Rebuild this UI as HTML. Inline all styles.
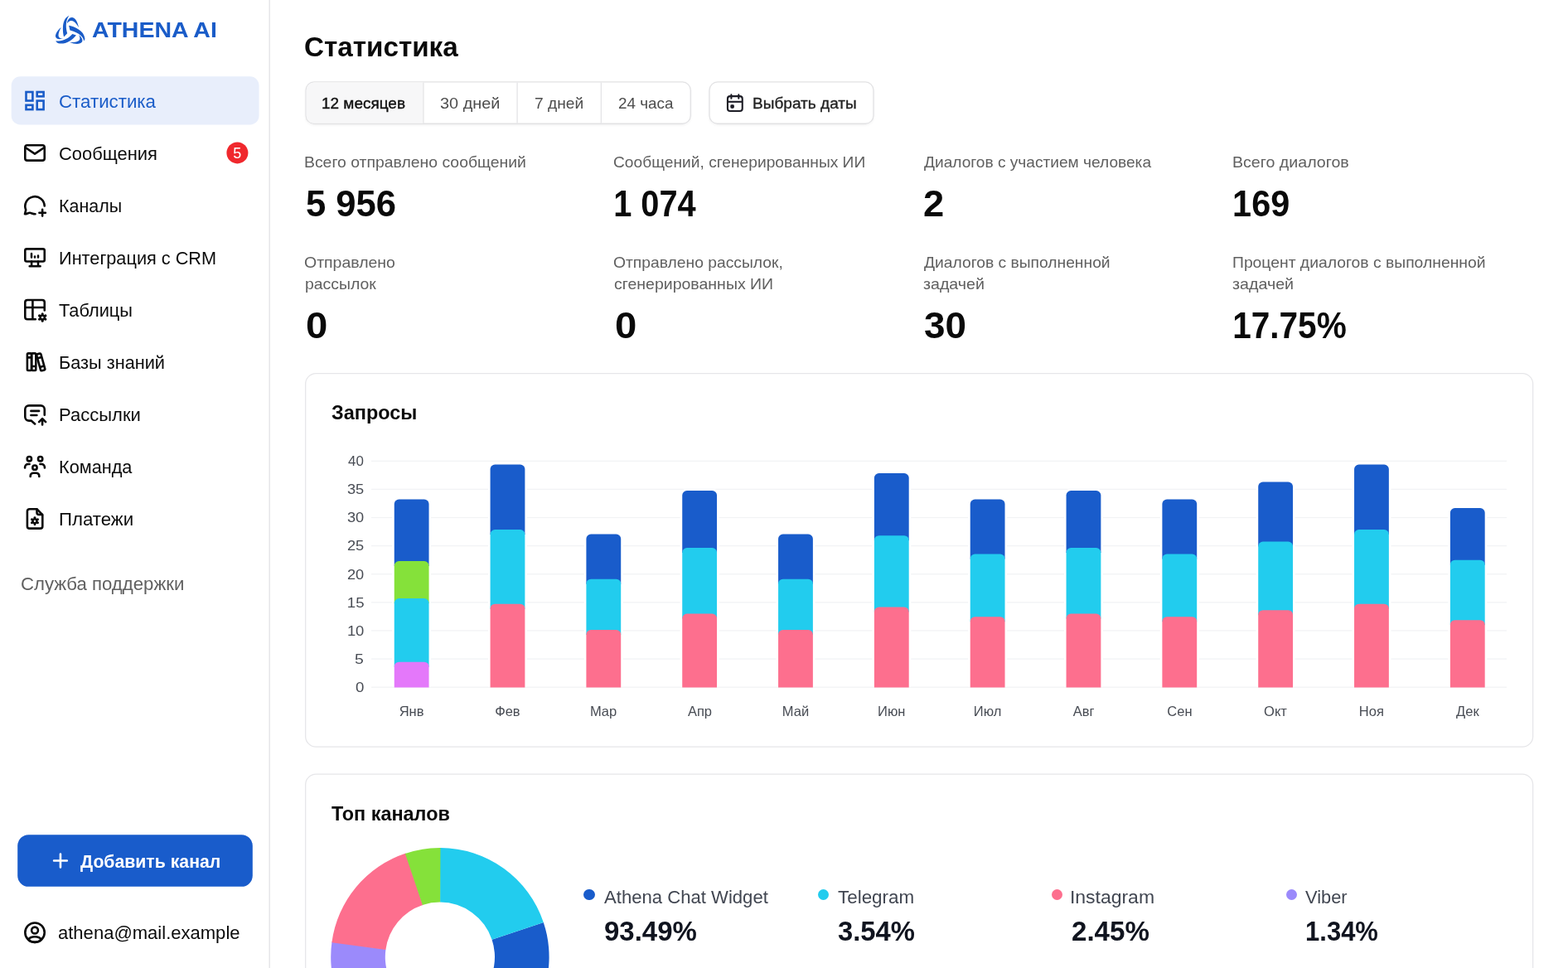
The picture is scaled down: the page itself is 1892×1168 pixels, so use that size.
<!DOCTYPE html>
<html lang="ru">
<head>
<meta charset="utf-8">
<title>Статистика — Athena AI</title>
<style>
*{box-sizing:border-box;margin:0;padding:0}
html,body{width:1892px;height:1168px;overflow:hidden;background:#fff}
body{position:relative;font-family:"Liberation Sans","DejaVu Sans",sans-serif;color:#0a0a0a;-webkit-font-smoothing:antialiased}
a{color:inherit;text-decoration:none}
ul{list-style:none}
.t{position:absolute;white-space:pre;line-height:1;display:block}
svg{position:absolute;overflow:visible}
.ic{fill:none;stroke:#0a0a0a;stroke-width:2.6;stroke-linecap:round;stroke-linejoin:round}
main{display:block}
.dot{position:absolute;width:13.4px;height:13.4px;border-radius:50%}
</style>
</head>
<body>
<aside>
<svg style="left:0;top:0" width="1892" height="1168" viewBox="0 0 1892 1168" aria-hidden="true"><defs><filter id="sh" x="-5%" y="-20%" width="110%" height="150%"><feDropShadow dx="0" dy="1.3" stdDeviation="1.2" flood-color="#000" flood-opacity="0.05"/></filter></defs><rect x="324.5" y="0" width="1.4" height="1168" fill="#e4e4e7"/><rect x="13.7" y="92.3" width="298.8" height="58.1" rx="10.7" fill="#e8eefb"/><g filter="url(#sh)"><rect x="369.05" y="98.95" width="464.20" height="50.30" rx="9.85" fill="#fff" stroke="#e2e2e4" stroke-width="1.3" /><rect x="856.05" y="98.95" width="197.90" height="50.30" rx="9.85" fill="#fff" stroke="#e2e2e4" stroke-width="1.3" /></g><path d="M369.7 108.8 a9.2 9.2 0 0 1 9.2 -9.2 H510.4 V148.6 H378.9 a9.2 9.2 0 0 1 -9.2 -9.2 Z" fill="#f7f7f8"/><rect x="510.30" y="99.6" width="1.3" height="49" fill="#e4e4e6"/><rect x="623.45" y="99.6" width="1.3" height="49" fill="#e4e4e6"/><rect x="724.70" y="99.6" width="1.3" height="49" fill="#e4e4e6"/><rect x="368.65" y="450.65" width="1481.00" height="450.40" rx="12.65" fill="#fff" stroke="#e6e6e9" stroke-width="1.3" /><rect x="368.65" y="934.15" width="1481.00" height="305.20" rx="12.65" fill="#fff" stroke="#e6e6e9" stroke-width="1.3" /><rect x="21.2" y="1007.2" width="283.6" height="62.6" rx="13.3" fill="#195ccb"/><circle cx="286.4" cy="184.4" r="13" fill="#f0282d"/></svg>
<a href="#" aria-label="Athena AI"><svg class="" style="left:60px;top:12px" width="50" height="50" viewBox="0 0 50 50" ><g fill="#1a5cc8" stroke="none"><path d="M23.3 6.85 C18 9.5 16 15 15.9 22 C15.8 26 16.3 29.5 17.1 32.5 L21.2 28.3 C19.5 23 18.5 14 23.3 6.85 Z"/><path d="M20.9 16.6 C21.3 12.3 23.5 9.1 26.7 9.0 C30.6 9.0 33.7 14.4 35 21.3 C32.3 16.6 29.6 13.2 26.2 13.0 C24.1 12.9 22.3 14.3 20.9 16.6 Z"/><path d="M13.8 20.9 C9.4 24.4 6.6 29 7.0 32.1 C7.4 35 11 36.3 16.1 34.5 C12.7 34.5 10.6 33.4 10.5 30.9 C10.4 28 11.7 24.5 13.8 20.9 Z"/><path d="M23.1 18.8 C31 20.5 41 25 42.4 34.2 C42.5 35.5 42 36.5 41.1 37.2 C41 33 36 27.5 24.4 24.4 Z"/><path d="M7.3 37.2 C15 38.5 22 35 27.4 29.1 L31.9 30.4 C27 37 18 42 10.5 40.2 C9 39.8 8 38.7 7.3 37.2 Z"/><path d="M35.1 29.9 C38.7 33 40.3 36.2 39 38.6 C37.2 41.9 30 41.7 24.3 39.1 C30 39.2 34.6 38.2 36 35.9 C36.8 34.5 36.3 32.3 35.1 29.9 Z"/></g></svg><strong class="t" id="logo" style="left:111.34px;top:23.19px;font-size:26px;color:#1a5cc8;font-weight:700;transform-origin:0.00px 0;transform:scaleX(1.0954);">ATHENA AI</strong></a>
<nav><ul>
<li><a href="#"><svg class="ic" style="left:22px;top:102px" width="40" height="40" viewBox="0 0 40 40" ><g stroke="#1a5cc8" stroke-linejoin="miter" stroke-linecap="butt"><rect x="9.5" y="9" width="7.9" height="10.5"/><rect x="22.7" y="9" width="7.9" height="5.3"/><rect x="9.5" y="24.8" width="7.9" height="5.3"/><rect x="22.7" y="19.6" width="7.9" height="10.5"/></g></svg><span class="t" id="nav0" style="left:70.72px;top:112.45px;font-size:22.5px;color:#1a5cc8;transform-origin:1.00px 0;transform:scaleX(0.9900);">Статистика</span></a></li>
<li><a href="#"><svg class="ic" style="left:22px;top:165px" width="40" height="40" viewBox="0 0 40 40" ><rect x="8.3" y="10.2" width="23.45" height="18.45" rx="2.6"/><path d="M8.6 13 L20 20.6 L31.4 13"/></svg><span class="t" id="nav1" style="left:70.80px;top:174.50px;font-size:22.5px;color:#0a0a0a;transform-origin:1.00px 0;transform:scaleX(0.9736);">Сообщения</span></a><span class="t" id="badge" style="left:281.20px;top:175.96px;font-size:18px;color:#fff;">5</span></li>
<li><a href="#"><svg class="ic" style="left:22px;top:228px" width="40" height="40" viewBox="0 0 40 40" ><path d="M31.72 20.54 A11.7 11.7 0 1 0 9.2 25.3 L8.0 30.2 C10.4 30.3 12 28.7 14 28.8 C16 28.9 17.5 30.2 20.5 30.2"/><path d="M25.4 28.8 H32.9 M29.15 24.9 V32.6"/></svg><span class="t" id="nav2" style="left:70.78px;top:237.55px;font-size:22.5px;color:#0a0a0a;transform-origin:1.00px 0;transform:scaleX(0.9526);">Каналы</span></a></li>
<li><a href="#"><svg class="ic" style="left:22px;top:291px" width="40" height="40" viewBox="0 0 40 40" ><rect x="8.3" y="9.35" width="23.45" height="15.2" rx="2"/><path d="M16.1 24.6 V30.2 M24 24.6 V30.2 M13.7 30.3 H26.6"/><path d="M16 14.9 V19.4 M20 18.6 V19.4 M24 17.5 V19.4" stroke-width="2.5"/></svg><span class="t" id="nav3" style="left:70.77px;top:300.60px;font-size:22.5px;color:#0a0a0a;transform-origin:1.00px 0;transform:scaleX(0.9646);">Интеграция с CRM</span></a></li>
<li><a href="#"><svg class="ic" style="left:22px;top:354px" width="40" height="40" viewBox="0 0 40 40" ><path d="M31.75 20.4 V10.8 a2.8 2.8 0 0 0 -2.8 -2.8 H11.1 a2.8 2.8 0 0 0 -2.8 2.8 V28.4 a2.8 2.8 0 0 0 2.8 2.8 H20.8"/><path d="M8.3 17 H31.75 M17.4 8 V31.2" stroke-linecap="butt"/><path d="M29.20 24.75L29.20 33.35" stroke-width="3.0"/><path d="M25.48 26.90L32.92 31.20" stroke-width="3.0"/><path d="M32.92 26.90L25.48 31.20" stroke-width="3.0"/><circle cx="29.2" cy="29.05" r="3.65" fill="#0a0a0a" stroke="none"/><circle cx="29.2" cy="29.05" r="1.3" fill="#fff" stroke="none"/></svg><span class="t" id="nav4" style="left:70.52px;top:363.65px;font-size:22.5px;color:#0a0a0a;transform-origin:0.00px 0;transform:scaleX(0.9678);">Таблицы</span></a></li>
<li><a href="#"><svg class="ic" style="left:22px;top:417px" width="40" height="40" viewBox="0 0 40 40" ><rect x="10.9" y="9.4" width="5.2" height="20.6" rx="1.2"/><rect x="16.1" y="9.4" width="5.2" height="20.6" rx="1.2"/><path d="M10.9 14.4 H16.1 M16.1 25 H21.3" stroke-linecap="butt"/><g transform="rotate(-15.5 27.2 19.9)"><rect x="24.5" y="9.6" width="5.4" height="20.6" rx="1.2"/><path d="M24.5 14.4 H29.9 M24.5 25.4 H29.9" stroke-linecap="butt"/></g></svg><span class="t" id="nav5" style="left:70.78px;top:426.70px;font-size:22.5px;color:#0a0a0a;transform-origin:1.00px 0;transform:scaleX(0.9647);">Базы знаний</span></a></li>
<li><a href="#"><svg class="ic" style="left:22px;top:480px" width="40" height="40" viewBox="0 0 40 40" ><path d="M31.75 20.8 V13.95 a4.6 4.6 0 0 0 -4.6 -4.6 H12.9 a4.6 4.6 0 0 0 -4.6 4.6 V23 a4.6 4.6 0 0 0 4.6 4.6 H15.6 L20.1 31.5"/><path d="M15.4 15.9 H25.1 M15.4 21.05 H22.4"/><path d="M29.1 32.4 V25.2 M25.1 29.1 L29.1 25.1 L33.1 29.1"/></svg><span class="t" id="nav6" style="left:70.76px;top:489.75px;font-size:22.5px;color:#0a0a0a;transform-origin:1.00px 0;transform:scaleX(0.9785);">Рассылки</span></a></li>
<li><a href="#"><svg class="ic" style="left:22px;top:543px" width="40" height="40" viewBox="0 0 40 40" ><circle cx="13.36" cy="10.7" r="2.65"/><circle cx="26.64" cy="10.7" r="2.65"/><circle cx="19.97" cy="21.15" r="2.65"/><path d="M13.6 17 H11.9 a3.8 3.8 0 0 0 -3.8 3.8 V21.5"/><path d="M26.4 17 H28.1 a3.8 3.8 0 0 1 3.8 3.8 V21.5"/><path d="M14.7 31.9 V31.3 a3.6 3.6 0 0 1 3.6 -3.6 H21.7 a3.6 3.6 0 0 1 3.6 3.6 V31.9"/></svg><span class="t" id="nav7" style="left:70.78px;top:552.80px;font-size:22.5px;color:#0a0a0a;transform-origin:1.00px 0;transform:scaleX(0.9636);">Команда</span></a></li>
<li><a href="#"><svg class="ic" style="left:22px;top:606px" width="40" height="40" viewBox="0 0 40 40" ><path d="M22.4 8.2 H13.6 a2.7 2.7 0 0 0 -2.7 2.7 V28.9 a2.7 2.7 0 0 0 2.7 2.7 H26.6 a2.7 2.7 0 0 0 2.7 -2.7 V15.1 Z"/><path d="M22.5 8.6 V12.4 a2.5 2.5 0 0 0 2.5 2.5 H28.9"/><path d="M19.97 18.60L19.97 26.80" stroke-width="2.9"/><path d="M16.42 20.65L23.52 24.75" stroke-width="2.9"/><path d="M23.52 20.65L16.42 24.75" stroke-width="2.9"/><circle cx="19.97" cy="22.7" r="3.48" fill="#0a0a0a" stroke="none"/><circle cx="19.97" cy="22.7" r="1.2" fill="#fff" stroke="none"/></svg><span class="t" id="nav8" style="left:70.78px;top:615.85px;font-size:22.5px;color:#0a0a0a;transform-origin:1.00px 0;transform:scaleX(0.9870);">Платежи</span></a></li>
</ul></nav>
<a href="#"><span class="t" id="support" style="left:24.94px;top:693.95px;font-size:22.5px;color:#606060;transform-origin:1.00px 0;transform:scaleX(0.9850);">Служба поддержки</span></a>
<a href="#" role="button"><svg class="ic" style="left:53px;top:1019px" width="40" height="40" viewBox="0 0 40 40" ><path d="M12.1 19.5 H27.8 M19.95 11.6 V27.5" stroke="#fff"/></svg><span class="t" id="addbtn" style="left:97.00px;top:1028.58px;font-size:22px;color:#fff;font-weight:700;transform-origin:0.00px 0;transform:scaleX(0.9648);">Добавить канал</span></a>
<div><svg class="ic" style="left:22px;top:1105px" width="40" height="40" viewBox="0 0 40 40" ><circle cx="20.03" cy="20.2" r="11.7"/><circle cx="20.03" cy="17.5" r="3.9"/><ellipse cx="20.03" cy="28.6" rx="7.2" ry="3.3"/></svg><span class="t" id="email" style="left:70.20px;top:1114.65px;font-size:22.5px;color:#0a0a0a;transform-origin:0.00px 0;transform:scaleX(0.9791);">athena@mail.example</span></div>
</aside>
<main>
<h1 class="t" id="title" style="left:366.92px;top:40.99px;font-size:32.5px;color:#0a0a0a;font-weight:700;transform-origin:1.00px 0;transform:scaleX(1.0225);">Статистика</h1>
<div role="tablist"><a class="t" id="tab0" style="left:388.49px;top:114.82px;font-size:19px;color:#111;transform-origin:1.00px 0;transform:scaleX(0.9979);-webkit-text-stroke:0.4px #111;">12 месяцев</a><a class="t" id="tab1" style="left:531.00px;top:114.82px;font-size:19px;color:#4d4d4d;transform-origin:0.00px 0;transform:scaleX(1.0461);">30 дней</a><a class="t" id="tab2" style="left:644.50px;top:114.82px;font-size:19px;color:#4d4d4d;transform-origin:0.00px 0;transform:scaleX(1.0099);">7 дней</a><a class="t" id="tab3" style="left:746.00px;top:114.82px;font-size:19px;color:#4d4d4d;transform-origin:0.00px 0;transform:scaleX(0.9944);">24 часа</a></div>
<a href="#" role="button"><svg class="ic" style="left:867px;top:104px" width="40" height="40" viewBox="0 0 40 40" ><g stroke="#1d1d26" stroke-width="2.1"><rect x="10.95" y="12.15" width="17.8" height="17.8" rx="3"/><path d="M15.4 10.2 V14.8 M24.3 10.2 V14.8"/><path d="M10.95 18.8 H28.75" stroke-linecap="butt"/><rect x="14.9" y="22.8" width="3.4" height="3.4" rx="0.9" fill="#1d1d26" stroke-width="1.1"/></g></svg><span class="t" id="datebtn" style="left:907.51px;top:114.82px;font-size:19px;color:#222;transform-origin:1.00px 0;transform:scaleX(1.0026);-webkit-text-stroke:0.35px #222;">Выбрать даты</span></a>
<section>
<div><span class="t" id="l0" style="left:367.47px;top:185.52px;font-size:19px;color:#606060;transform-origin:1.00px 0;transform:scaleX(1.0210);">Всего отправлено сообщений</span><strong class="t" id="v0" style="left:368.84px;top:223.65px;font-size:44px;color:#0a0a0a;font-weight:700;transform-origin:1.00px 0;transform:scaleX(0.9898);">5 956</strong></div>
<div><span class="t" id="l1" style="left:740.20px;top:185.52px;font-size:19px;color:#606060;transform-origin:0.00px 0;transform:scaleX(1.0102);">Сообщений, сгенерированных ИИ</span><strong class="t" id="v1" style="left:740.26px;top:223.65px;font-size:44px;color:#0a0a0a;font-weight:700;transform-origin:2.00px 0;transform:scaleX(0.9040);">1 074</strong></div>
<div><span class="t" id="l2" style="left:1114.97px;top:185.52px;font-size:19px;color:#606060;transform-origin:0.00px 0;transform:scaleX(1.0064);">Диалогов с участием человека</span><strong class="t" id="v2" style="left:1114.43px;top:223.65px;font-size:44px;color:#0a0a0a;font-weight:700;transform-origin:1.00px 0;transform:scaleX(1.0293);">2</strong></div>
<div><span class="t" id="l3" style="left:1486.86px;top:185.52px;font-size:19px;color:#606060;transform-origin:1.00px 0;transform:scaleX(1.0324);">Всего диалогов</span><strong class="t" id="v3" style="left:1487.05px;top:223.65px;font-size:44px;color:#0a0a0a;font-weight:700;transform-origin:2.00px 0;transform:scaleX(0.9407);">169</strong></div>
<div><span class="t" id="l4a" style="left:366.90px;top:306.72px;font-size:19px;color:#606060;transform-origin:0.00px 0;transform:scaleX(1.0248);">Отправлено</span><span class="t" id="l4b" style="left:367.82px;top:332.72px;font-size:19px;color:#606060;transform-origin:1.00px 0;transform:scaleX(1.0208);">рассылок</span><strong class="t" id="v4" style="left:368.83px;top:370.75px;font-size:44px;color:#0a0a0a;font-weight:700;transform-origin:1.00px 0;transform:scaleX(1.0754);">0</strong></div>
<div><span class="t" id="l5a" style="left:740.20px;top:306.72px;font-size:19px;color:#606060;transform-origin:0.00px 0;transform:scaleX(1.0147);">Отправлено рассылок,</span><span class="t" id="l5b" style="left:740.80px;top:332.72px;font-size:19px;color:#606060;transform-origin:0.00px 0;transform:scaleX(1.0266);">сгенерированных ИИ</span><strong class="t" id="v5" style="left:741.83px;top:370.75px;font-size:44px;color:#0a0a0a;font-weight:700;transform-origin:1.00px 0;transform:scaleX(1.0754);">0</strong></div>
<div><span class="t" id="l6a" style="left:1114.91px;top:306.72px;font-size:19px;color:#606060;transform-origin:0.00px 0;transform:scaleX(1.0133);">Диалогов с выполненной</span><span class="t" id="l6b" style="left:1114.24px;top:332.72px;font-size:19px;color:#606060;transform-origin:0.00px 0;transform:scaleX(1.0321);">задачей</span><strong class="t" id="v6" style="left:1114.91px;top:370.75px;font-size:44px;color:#0a0a0a;font-weight:700;transform-origin:1.00px 0;transform:scaleX(1.0406);">30</strong></div>
<div><span class="t" id="l7a" style="left:1486.89px;top:306.72px;font-size:19px;color:#606060;transform-origin:1.00px 0;transform:scaleX(1.0173);">Процент диалогов с выполненной</span><span class="t" id="l7b" style="left:1487.27px;top:332.72px;font-size:19px;color:#606060;transform-origin:0.00px 0;transform:scaleX(1.0344);">задачей</span><strong class="t" id="v7" style="left:1486.98px;top:370.75px;font-size:44px;color:#0a0a0a;font-weight:700;transform-origin:2.00px 0;transform:scaleX(0.9220);">17.75%</strong></div>
</section>
<section>
<h2 class="t" id="c1title" style="left:399.69px;top:485.88px;font-size:24px;color:#0a0a0a;font-weight:700;transform-origin:0.00px 0;transform:scaleX(0.9775);">Запросы</h2>
<svg style="left:0;top:0" width="1892" height="1168" viewBox="0 0 1892 1168" role="img" aria-label="Запросы"><rect x="448" y="555.65" width="1370" height="1.3" fill="#f2f3f5"/><rect x="448" y="589.76" width="1370" height="1.3" fill="#f2f3f5"/><rect x="448" y="623.87" width="1370" height="1.3" fill="#f2f3f5"/><rect x="448" y="657.98" width="1370" height="1.3" fill="#f2f3f5"/><rect x="448" y="692.09" width="1370" height="1.3" fill="#f2f3f5"/><rect x="448" y="726.20" width="1370" height="1.3" fill="#f2f3f5"/><rect x="448" y="760.31" width="1370" height="1.3" fill="#f2f3f5"/><rect x="448" y="794.42" width="1370" height="1.3" fill="#f2f3f5"/><rect x="448" y="828.53" width="1370" height="1.3" fill="#f2f3f5"/><path d="M473.15 828.5 V608.10 a8.2 8.2 0 0 1 8.2 -8.2 H511.95 a8.2 8.2 0 0 1 8.2 8.2 V828.5 Z" fill="#fff"/><path d="M475.75 683.1 V608.10 a5.6 5.6 0 0 1 5.6 -5.6 H511.95 a5.6 5.6 0 0 1 5.6 5.6 V683.1 Z" fill="#195ccb"/><path d="M475.75 728.1 V682.60 a5.6 5.6 0 0 1 5.6 -5.6 H511.95 a5.6 5.6 0 0 1 5.6 5.6 V728.1 Z" fill="#85e13a"/><path d="M475.75 804.8000000000001 V727.60 a5.6 5.6 0 0 1 5.6 -5.6 H511.95 a5.6 5.6 0 0 1 5.6 5.6 V804.8000000000001 Z" fill="#22ccee"/><path d="M475.75 829.5 V804.30 a5.6 5.6 0 0 1 5.6 -5.6 H511.95 a5.6 5.6 0 0 1 5.6 5.6 V829.5 Z" fill="#e478fa"/><path d="M588.98 828.5 V566.10 a8.2 8.2 0 0 1 8.2 -8.2 H627.78 a8.2 8.2 0 0 1 8.2 8.2 V828.5 Z" fill="#fff"/><path d="M591.58 645.1 V566.10 a5.6 5.6 0 0 1 5.6 -5.6 H627.78 a5.6 5.6 0 0 1 5.6 5.6 V645.1 Z" fill="#195ccb"/><path d="M591.58 734.8000000000001 V644.60 a5.6 5.6 0 0 1 5.6 -5.6 H627.78 a5.6 5.6 0 0 1 5.6 5.6 V734.8000000000001 Z" fill="#22ccee"/><path d="M591.58 829.5 V734.30 a5.6 5.6 0 0 1 5.6 -5.6 H627.78 a5.6 5.6 0 0 1 5.6 5.6 V829.5 Z" fill="#fd6f8e"/><path d="M704.81 828.5 V650.10 a8.2 8.2 0 0 1 8.2 -8.2 H743.61 a8.2 8.2 0 0 1 8.2 8.2 V828.5 Z" fill="#fff"/><path d="M707.41 704.8000000000001 V650.10 a5.6 5.6 0 0 1 5.6 -5.6 H743.61 a5.6 5.6 0 0 1 5.6 5.6 V704.8000000000001 Z" fill="#195ccb"/><path d="M707.41 766.1 V704.30 a5.6 5.6 0 0 1 5.6 -5.6 H743.61 a5.6 5.6 0 0 1 5.6 5.6 V766.1 Z" fill="#22ccee"/><path d="M707.41 829.5 V765.60 a5.6 5.6 0 0 1 5.6 -5.6 H743.61 a5.6 5.6 0 0 1 5.6 5.6 V829.5 Z" fill="#fd6f8e"/><path d="M820.64 828.5 V597.60 a8.2 8.2 0 0 1 8.2 -8.2 H859.44 a8.2 8.2 0 0 1 8.2 8.2 V828.5 Z" fill="#fff"/><path d="M823.24 667.1 V597.60 a5.6 5.6 0 0 1 5.6 -5.6 H859.44 a5.6 5.6 0 0 1 5.6 5.6 V667.1 Z" fill="#195ccb"/><path d="M823.24 746.6 V666.60 a5.6 5.6 0 0 1 5.6 -5.6 H859.44 a5.6 5.6 0 0 1 5.6 5.6 V746.6 Z" fill="#22ccee"/><path d="M823.24 829.5 V746.10 a5.6 5.6 0 0 1 5.6 -5.6 H859.44 a5.6 5.6 0 0 1 5.6 5.6 V829.5 Z" fill="#fd6f8e"/><path d="M936.47 828.5 V650.10 a8.2 8.2 0 0 1 8.2 -8.2 H975.27 a8.2 8.2 0 0 1 8.2 8.2 V828.5 Z" fill="#fff"/><path d="M939.07 704.8000000000001 V650.10 a5.6 5.6 0 0 1 5.6 -5.6 H975.27 a5.6 5.6 0 0 1 5.6 5.6 V704.8000000000001 Z" fill="#195ccb"/><path d="M939.07 766.1 V704.30 a5.6 5.6 0 0 1 5.6 -5.6 H975.27 a5.6 5.6 0 0 1 5.6 5.6 V766.1 Z" fill="#22ccee"/><path d="M939.07 829.5 V765.60 a5.6 5.6 0 0 1 5.6 -5.6 H975.27 a5.6 5.6 0 0 1 5.6 5.6 V829.5 Z" fill="#fd6f8e"/><path d="M1052.30 828.5 V576.60 a8.2 8.2 0 0 1 8.2 -8.2 H1091.10 a8.2 8.2 0 0 1 8.2 8.2 V828.5 Z" fill="#fff"/><path d="M1054.90 652.3000000000001 V576.60 a5.6 5.6 0 0 1 5.6 -5.6 H1091.10 a5.6 5.6 0 0 1 5.6 5.6 V652.3000000000001 Z" fill="#195ccb"/><path d="M1054.90 738.6 V651.80 a5.6 5.6 0 0 1 5.6 -5.6 H1091.10 a5.6 5.6 0 0 1 5.6 5.6 V738.6 Z" fill="#22ccee"/><path d="M1054.90 829.5 V738.10 a5.6 5.6 0 0 1 5.6 -5.6 H1091.10 a5.6 5.6 0 0 1 5.6 5.6 V829.5 Z" fill="#fd6f8e"/><path d="M1168.13 828.5 V608.10 a8.2 8.2 0 0 1 8.2 -8.2 H1206.93 a8.2 8.2 0 0 1 8.2 8.2 V828.5 Z" fill="#fff"/><path d="M1170.73 674.6 V608.10 a5.6 5.6 0 0 1 5.6 -5.6 H1206.93 a5.6 5.6 0 0 1 5.6 5.6 V674.6 Z" fill="#195ccb"/><path d="M1170.73 750.3000000000001 V674.10 a5.6 5.6 0 0 1 5.6 -5.6 H1206.93 a5.6 5.6 0 0 1 5.6 5.6 V750.3000000000001 Z" fill="#22ccee"/><path d="M1170.73 829.5 V749.80 a5.6 5.6 0 0 1 5.6 -5.6 H1206.93 a5.6 5.6 0 0 1 5.6 5.6 V829.5 Z" fill="#fd6f8e"/><path d="M1283.96 828.5 V597.60 a8.2 8.2 0 0 1 8.2 -8.2 H1322.76 a8.2 8.2 0 0 1 8.2 8.2 V828.5 Z" fill="#fff"/><path d="M1286.56 667.1 V597.60 a5.6 5.6 0 0 1 5.6 -5.6 H1322.76 a5.6 5.6 0 0 1 5.6 5.6 V667.1 Z" fill="#195ccb"/><path d="M1286.56 746.6 V666.60 a5.6 5.6 0 0 1 5.6 -5.6 H1322.76 a5.6 5.6 0 0 1 5.6 5.6 V746.6 Z" fill="#22ccee"/><path d="M1286.56 829.5 V746.10 a5.6 5.6 0 0 1 5.6 -5.6 H1322.76 a5.6 5.6 0 0 1 5.6 5.6 V829.5 Z" fill="#fd6f8e"/><path d="M1399.79 828.5 V608.10 a8.2 8.2 0 0 1 8.2 -8.2 H1438.59 a8.2 8.2 0 0 1 8.2 8.2 V828.5 Z" fill="#fff"/><path d="M1402.39 674.6 V608.10 a5.6 5.6 0 0 1 5.6 -5.6 H1438.59 a5.6 5.6 0 0 1 5.6 5.6 V674.6 Z" fill="#195ccb"/><path d="M1402.39 750.3000000000001 V674.10 a5.6 5.6 0 0 1 5.6 -5.6 H1438.59 a5.6 5.6 0 0 1 5.6 5.6 V750.3000000000001 Z" fill="#22ccee"/><path d="M1402.39 829.5 V749.80 a5.6 5.6 0 0 1 5.6 -5.6 H1438.59 a5.6 5.6 0 0 1 5.6 5.6 V829.5 Z" fill="#fd6f8e"/><path d="M1515.62 828.5 V587.10 a8.2 8.2 0 0 1 8.2 -8.2 H1554.42 a8.2 8.2 0 0 1 8.2 8.2 V828.5 Z" fill="#fff"/><path d="M1518.22 659.6 V587.10 a5.6 5.6 0 0 1 5.6 -5.6 H1554.42 a5.6 5.6 0 0 1 5.6 5.6 V659.6 Z" fill="#195ccb"/><path d="M1518.22 742.3000000000001 V659.10 a5.6 5.6 0 0 1 5.6 -5.6 H1554.42 a5.6 5.6 0 0 1 5.6 5.6 V742.3000000000001 Z" fill="#22ccee"/><path d="M1518.22 829.5 V741.80 a5.6 5.6 0 0 1 5.6 -5.6 H1554.42 a5.6 5.6 0 0 1 5.6 5.6 V829.5 Z" fill="#fd6f8e"/><path d="M1631.45 828.5 V566.10 a8.2 8.2 0 0 1 8.2 -8.2 H1670.25 a8.2 8.2 0 0 1 8.2 8.2 V828.5 Z" fill="#fff"/><path d="M1634.05 645.1 V566.10 a5.6 5.6 0 0 1 5.6 -5.6 H1670.25 a5.6 5.6 0 0 1 5.6 5.6 V645.1 Z" fill="#195ccb"/><path d="M1634.05 734.8000000000001 V644.60 a5.6 5.6 0 0 1 5.6 -5.6 H1670.25 a5.6 5.6 0 0 1 5.6 5.6 V734.8000000000001 Z" fill="#22ccee"/><path d="M1634.05 829.5 V734.30 a5.6 5.6 0 0 1 5.6 -5.6 H1670.25 a5.6 5.6 0 0 1 5.6 5.6 V829.5 Z" fill="#fd6f8e"/><path d="M1747.28 828.5 V618.60 a8.2 8.2 0 0 1 8.2 -8.2 H1786.08 a8.2 8.2 0 0 1 8.2 8.2 V828.5 Z" fill="#fff"/><path d="M1749.88 681.8000000000001 V618.60 a5.6 5.6 0 0 1 5.6 -5.6 H1786.08 a5.6 5.6 0 0 1 5.6 5.6 V681.8000000000001 Z" fill="#195ccb"/><path d="M1749.88 754.3000000000001 V681.30 a5.6 5.6 0 0 1 5.6 -5.6 H1786.08 a5.6 5.6 0 0 1 5.6 5.6 V754.3000000000001 Z" fill="#22ccee"/><path d="M1749.88 829.5 V753.80 a5.6 5.6 0 0 1 5.6 -5.6 H1786.08 a5.6 5.6 0 0 1 5.6 5.6 V829.5 Z" fill="#fd6f8e"/></svg>
<span class="t" id="y0" style="left:419.80px;top:548.13px;font-size:16.5px;color:#484c54;transform-origin:0.00px 0;transform:scaleX(1.0233);">40</span>
<span class="t" id="y1" style="left:418.78px;top:582.24px;font-size:16.5px;color:#484c54;transform-origin:0.00px 0;transform:scaleX(1.1014);">35</span>
<span class="t" id="y2" style="left:418.94px;top:616.35px;font-size:16.5px;color:#484c54;transform-origin:0.00px 0;transform:scaleX(1.1008);">30</span>
<span class="t" id="y3" style="left:418.78px;top:650.46px;font-size:16.5px;color:#484c54;transform-origin:0.00px 0;transform:scaleX(1.1014);">25</span>
<span class="t" id="y4" style="left:418.94px;top:684.57px;font-size:16.5px;color:#484c54;transform-origin:0.00px 0;transform:scaleX(1.1008);">20</span>
<span class="t" id="y5" style="left:418.75px;top:718.68px;font-size:16.5px;color:#484c54;transform-origin:1.00px 0;transform:scaleX(1.1262);">15</span>
<span class="t" id="y6" style="left:419.07px;top:752.79px;font-size:16.5px;color:#484c54;transform-origin:1.00px 0;transform:scaleX(1.1147);">10</span>
<span class="t" id="y7" style="left:428.26px;top:786.90px;font-size:16.5px;color:#484c54;transform-origin:0.00px 0;transform:scaleX(1.1729);">5</span>
<span class="t" id="y8" style="left:429.03px;top:821.01px;font-size:16.5px;color:#484c54;transform-origin:0.00px 0;transform:scaleX(1.1283);">0</span>
<span class="t" id="x0" style="left:481.69px;top:850.33px;font-size:16.5px;color:#484c54;">Янв</span>
<span class="t" id="x1" style="left:597.14px;top:850.33px;font-size:16.5px;color:#484c54;">Фев</span>
<span class="t" id="x2" style="left:711.91px;top:850.33px;font-size:16.5px;color:#484c54;">Мар</span>
<span class="t" id="x3" style="left:829.91px;top:850.33px;font-size:16.5px;color:#484c54;">Апр</span>
<span class="t" id="x4" style="left:943.80px;top:850.33px;font-size:16.5px;color:#484c54;">Май</span>
<span class="t" id="x5" style="left:1059.03px;top:850.33px;font-size:16.5px;color:#484c54;">Июн</span>
<span class="t" id="x6" style="left:1174.83px;top:850.33px;font-size:16.5px;color:#484c54;">Июл</span>
<span class="t" id="x7" style="left:1294.79px;top:850.33px;font-size:16.5px;color:#484c54;">Авг</span>
<span class="t" id="x8" style="left:1408.35px;top:850.33px;font-size:16.5px;color:#484c54;">Сен</span>
<span class="t" id="x9" style="left:1525.05px;top:850.33px;font-size:16.5px;color:#484c54;">Окт</span>
<span class="t" id="x10" style="left:1639.86px;top:850.33px;font-size:16.5px;color:#484c54;">Ноя</span>
<span class="t" id="x11" style="left:1757.05px;top:850.33px;font-size:16.5px;color:#484c54;">Дек</span>
</section>
<section>
<h2 class="t" id="c2title" style="left:399.70px;top:969.58px;font-size:24px;color:#0a0a0a;font-weight:700;transform-origin:0.00px 0;transform:scaleX(0.9749);">Топ каналов</h2>
<svg style="left:0;top:0" width="1892" height="1168" viewBox="0 0 1892 1168" role="img" aria-label="Топ каналов"><path d="M530.90 1286.40 A131.7 131.7 0 0 1 400.48 1136.37 L465.44 1145.50 A66.1 66.1 0 0 0 530.90 1220.80 Z" fill="#9b8afb"/><path d="M400.36 1137.28 A131.7 131.7 0 0 1 489.77 1029.59 L510.25 1091.91 A66.1 66.1 0 0 0 465.38 1145.96 Z" fill="#fd6f8e"/><path d="M488.89 1029.88 A131.7 131.7 0 0 1 532.28 1023.01 L531.59 1088.60 A66.1 66.1 0 0 0 509.82 1092.05 Z" fill="#85e13a"/><path d="M655.79 1112.91 A131.7 131.7 0 0 1 528.60 1286.38 L529.75 1220.79 A66.1 66.1 0 0 0 593.58 1133.73 Z" fill="#195ccb"/><path d="M531.47 1023.00 A131.7 131.7 0 0 1 655.79 1112.91 L593.58 1133.73 A66.1 66.1 0 0 0 531.19 1088.60 Z" fill="#22ccee"/></svg>
<ul>
<li><span class="dot" style="left:704.3px;top:1072.8px;background:#195ccb"></span><span class="t" id="lg0" style="left:729.09px;top:1072.38px;font-size:22px;color:#414651;transform-origin:0.00px 0;transform:scaleX(1.0047);">Athena Chat Widget</span><strong class="t" id="lv0" style="left:728.50px;top:1106.67px;font-size:33px;color:#10141f;font-weight:700;transform-origin:1.00px 0;transform:scaleX(0.9993);">93.49%</strong></li>
<li><span class="dot" style="left:986.7px;top:1072.8px;background:#22ccee"></span><span class="t" id="lg1" style="left:1010.78px;top:1072.38px;font-size:22px;color:#414651;transform-origin:0.00px 0;transform:scaleX(1.0179);">Telegram</span><strong class="t" id="lv1" style="left:1010.64px;top:1106.67px;font-size:33px;color:#10141f;font-weight:700;transform-origin:0.00px 0;transform:scaleX(0.9928);">3.54%</strong></li>
<li><span class="dot" style="left:1268.9px;top:1072.8px;background:#fd6f8e"></span><span class="t" id="lg2" style="left:1290.99px;top:1072.38px;font-size:22px;color:#414651;transform-origin:2.00px 0;transform:scaleX(1.0438);">Instagram</span><strong class="t" id="lv2" style="left:1292.50px;top:1106.67px;font-size:33px;color:#10141f;font-weight:700;transform-origin:1.00px 0;transform:scaleX(1.0030);">2.45%</strong></li>
<li><span class="dot" style="left:1551.6px;top:1072.8px;background:#9b8afb"></span><span class="t" id="lg3" style="left:1574.79px;top:1072.38px;font-size:22px;color:#414651;transform-origin:0.00px 0;transform:scaleX(0.9919);">Viber</span><strong class="t" id="lv3" style="left:1574.92px;top:1106.67px;font-size:33px;color:#10141f;font-weight:700;transform-origin:2.00px 0;transform:scaleX(0.9376);">1.34%</strong></li>
</ul>
</section>
</main>
</body>
</html>
